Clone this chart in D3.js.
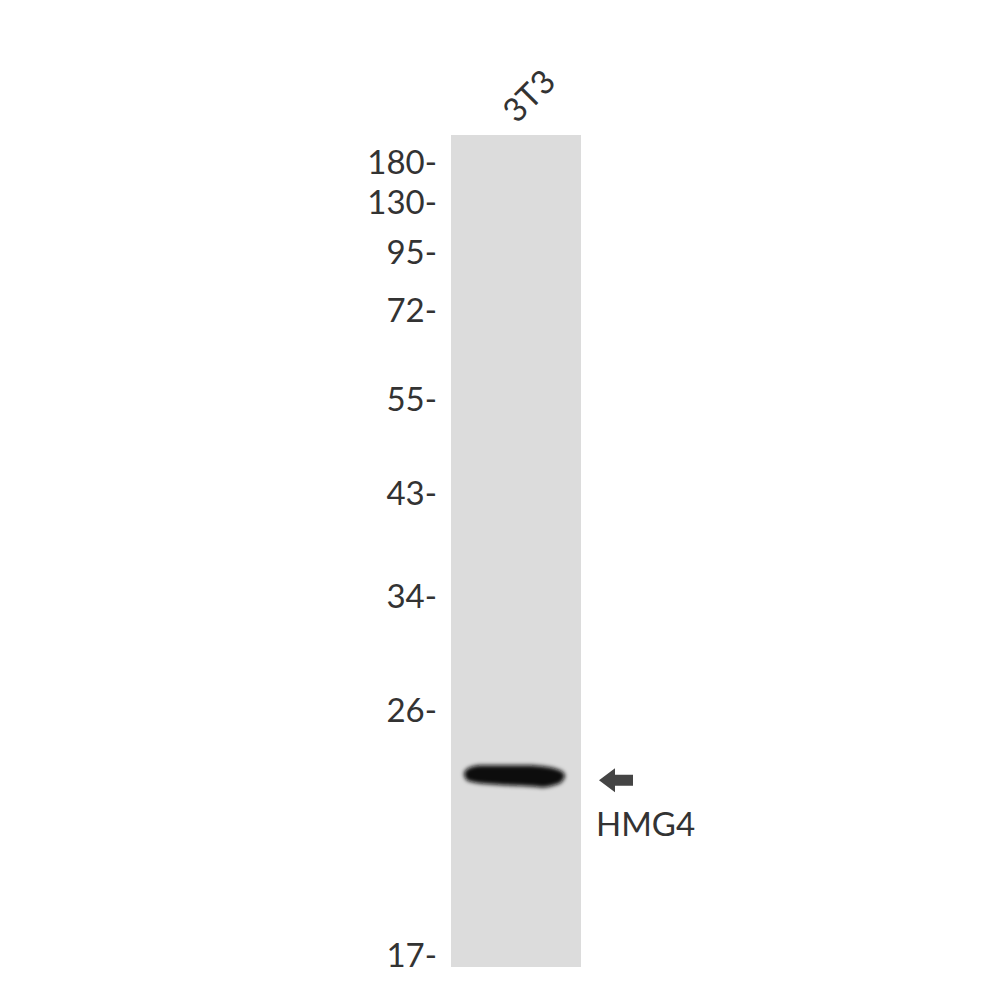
<!DOCTYPE html>
<html>
<head>
<meta charset="utf-8">
<script src="https://cdn.jsdelivr.net/npm/d3@7"></script>
<style>
  body { margin: 0; background: #fff; }
  text { font-family: Lato, "Noto Sans", sans-serif; fill: #333; }
</style>
</head>
<body>
<div id="blot"></div>
<script>
// data
var lanes = ["3T3"];
var markers = [180, 130, 95, 72, 55, 43, 34, 26, 17];
var bands = [{lane: "3T3", mw: 23.6, label: "HMG4"}];

var svgWidth = 1000;
var svgHeight = 1000;

var svg = d3.select("#blot")
    .append("svg")
    .attr("width", svgWidth)
    .attr("height", svgHeight);

// marker positions on the gel (layout, piecewise scale)
var markerY = [161, 201, 251, 309, 398, 492, 595, 709, 954];
var yScale = d3.scaleLinear()
    .domain(markers)
    .range(markerY);

var xScale = d3.scaleBand()
    .domain(lanes)
    .range([451, 581])
    .padding(0);

// lane background
svg.selectAll("rect.lane")
    .data(lanes)
    .enter()
    .append("rect")
    .attr("class", "lane")
    .attr("x", d => xScale(d))
    .attr("y", 135)
    .attr("width", xScale.bandwidth())
    .attr("height", 967 - 135)
    .attr("fill", "#dcdcdc");

// lane labels
svg.selectAll("text.laneLabel")
    .data(lanes)
    .enter()
    .append("text")
    .attr("class", "laneLabel")
    .attr("transform", d => `translate(${xScale(d) + xScale.bandwidth() / 2 + 12},95) rotate(-45)`)
    .attr("text-anchor", "middle")
    .attr("dominant-baseline", "central")
    .style("font-size", "33px")
    .text(d => d);

// marker labels
svg.selectAll("text.marker")
    .data(markers)
    .enter()
    .append("text")
    .attr("class", "marker")
    .attr("x", 437)
    .attr("y", d => yScale(d))
    .attr("text-anchor", "end")
    .attr("dominant-baseline", "central")
    .style("font-size", "33px")
    .text(d => d + "-");

// band blur
var defs = svg.append("defs");
defs.append("filter")
    .attr("id", "blur")
    .attr("x", "-20%").attr("y", "-50%")
    .attr("width", "140%").attr("height", "200%")
    .append("feGaussianBlur")
    .attr("stdDeviation", 2);

// band outline, u along band width, v offset in px
var outline = [
    [0, -2], [0.04, -7], [0.15, -10], [0.4, -10], [0.65, -10], [0.85, -8], [0.97, -4],
    [1, 1], [0.95, 8], [0.8, 12], [0.65, 11], [0.4, 10], [0.15, 8], [0.03, 5]
];
var bandLine = d3.line().curve(d3.curveCardinalClosed.tension(0.3));

svg.selectAll("path.band")
    .data(bands)
    .enter()
    .append("path")
    .attr("class", "band")
    .attr("d", function(d) {
        var x0 = xScale(d.lane) + 13;
        var w = xScale.bandwidth() - 29;
        var yc = yScale(d.mw) + 1;
        return bandLine(outline.map(p => [x0 + p[0] * w, yc + p[1]]));
    })
    .attr("fill", "#0a0a0a")
    .attr("filter", "url(#blur)");

// arrow and label
bands.forEach(function(d) {
    var ya = yScale(d.mw) + 6;
    var xa = xScale(d.lane) + xScale.bandwidth() + 18;
    svg.append("path")
        .attr("d", `M${xa},${ya} L${xa + 16},${ya - 12} L${xa + 16},${ya - 5.5} L${xa + 34},${ya - 5.5} L${xa + 34},${ya + 5.5} L${xa + 16},${ya + 5.5} L${xa + 16},${ya + 12} Z`)
        .attr("fill", "#444");
    svg.append("text")
        .attr("x", xa - 3)
        .attr("y", ya + 56)
        .style("font-size", "33px")
        .text(d.label);
});
</script>
</body>
</html>
